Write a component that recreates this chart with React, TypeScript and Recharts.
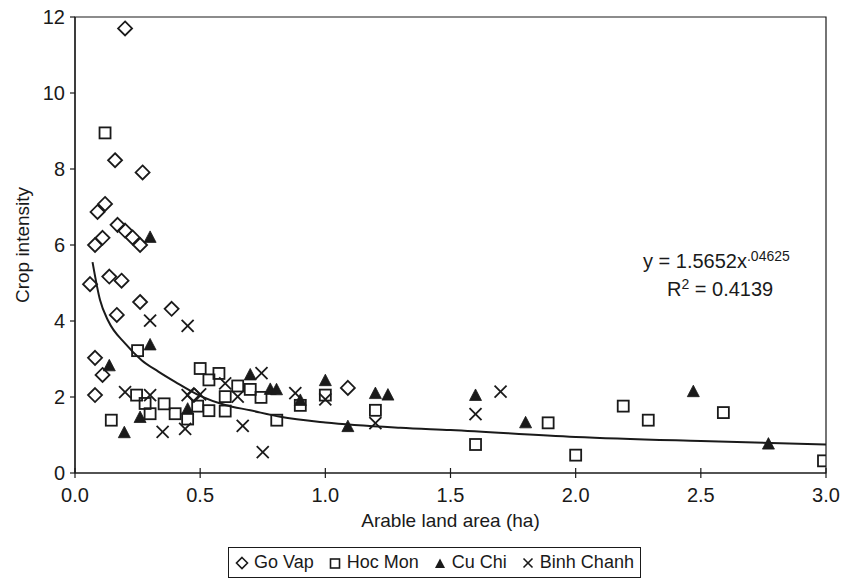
import React from "react";
import {
  ComposedChart,
  Scatter,
  Line,
  XAxis,
  YAxis,
  ReferenceArea,
} from "recharts";

// ---- data ----
const goVap = [
  { x: 0.2, y: 11.7 }, { x: 0.16, y: 8.23 }, { x: 0.27, y: 7.91 }, { x: 0.09, y: 6.87 },
  { x: 0.12, y: 7.08 }, { x: 0.17, y: 6.53 }, { x: 0.2, y: 6.38 }, { x: 0.23, y: 6.2 },
  { x: 0.26, y: 6.0 }, { x: 0.08, y: 6.0 }, { x: 0.11, y: 6.19 }, { x: 0.06, y: 4.97 },
  { x: 0.137, y: 5.17 }, { x: 0.186, y: 5.06 }, { x: 0.26, y: 4.5 }, { x: 0.386, y: 4.32 },
  { x: 0.167, y: 4.16 }, { x: 0.08, y: 3.03 }, { x: 0.11, y: 2.58 }, { x: 0.08, y: 2.05 },
  { x: 0.475, y: 2.05 }, { x: 1.09, y: 2.24 },
];

const hocMon = [
  { x: 0.12, y: 8.95 }, { x: 0.25, y: 3.22 }, { x: 0.246, y: 2.05 }, { x: 0.28, y: 1.83 },
  { x: 0.3, y: 1.56 }, { x: 0.356, y: 1.82 }, { x: 0.4, y: 1.56 }, { x: 0.45, y: 1.42 },
  { x: 0.49, y: 1.76 }, { x: 0.145, y: 1.39 }, { x: 0.5, y: 2.75 }, { x: 0.535, y: 2.45 },
  { x: 0.575, y: 2.62 }, { x: 0.65, y: 2.29 }, { x: 0.6, y: 2.01 }, { x: 0.535, y: 1.64 },
  { x: 0.6, y: 1.63 }, { x: 0.7, y: 2.2 }, { x: 0.743, y: 1.99 }, { x: 0.806, y: 1.39 },
  { x: 0.9, y: 1.78 }, { x: 1.0, y: 2.05 }, { x: 1.2, y: 1.65 }, { x: 1.6, y: 0.75 },
  { x: 1.89, y: 1.32 }, { x: 2.0, y: 0.47 }, { x: 2.19, y: 1.76 }, { x: 2.29, y: 1.39 },
  { x: 2.59, y: 1.59 }, { x: 2.99, y: 0.32 },
];

const cuChi = [
  { x: 0.3, y: 6.2 }, { x: 0.3, y: 3.37 }, { x: 0.137, y: 2.82 }, { x: 0.45, y: 1.68 },
  { x: 0.26, y: 1.46 }, { x: 0.197, y: 1.06 }, { x: 0.7, y: 2.58 }, { x: 0.78, y: 2.2 },
  { x: 0.805, y: 2.19 }, { x: 0.9, y: 1.91 }, { x: 1.0, y: 2.43 }, { x: 1.09, y: 1.22 },
  { x: 1.2, y: 2.09 }, { x: 1.25, y: 2.05 }, { x: 1.6, y: 2.04 }, { x: 1.8, y: 1.32 },
  { x: 2.47, y: 2.14 }, { x: 2.77, y: 0.76 },
];

const binhChanh = [
  { x: 0.3, y: 4.01 }, { x: 0.45, y: 3.87 }, { x: 0.2, y: 2.13 }, { x: 0.3, y: 2.05 },
  { x: 0.45, y: 2.05 }, { x: 0.5, y: 2.07 }, { x: 0.35, y: 1.08 }, { x: 0.44, y: 1.16 },
  { x: 0.6, y: 2.36 }, { x: 0.65, y: 2.01 }, { x: 0.67, y: 1.24 }, { x: 0.745, y: 2.63 },
  { x: 0.75, y: 0.55 }, { x: 0.88, y: 2.1 }, { x: 1.0, y: 1.94 }, { x: 1.2, y: 1.31 },
  { x: 1.6, y: 1.55 }, { x: 1.7, y: 2.14 },
];

// trend curve
const trend = [
  { x: 0.07, y: 5.55 }, { x: 0.1, y: 4.55 }, { x: 0.133, y: 4.0 }, { x: 0.2, y: 3.41 },
  { x: 0.266, y: 2.97 }, { x: 0.333, y: 2.67 }, { x: 0.4, y: 2.4 }, { x: 0.5, y: 2.03 },
  { x: 0.6, y: 1.79 }, { x: 0.7, y: 1.65 }, { x: 0.82, y: 1.48 }, { x: 1.0, y: 1.33 },
  { x: 1.3, y: 1.19 }, { x: 1.5, y: 1.13 }, { x: 2.0, y: 0.95 }, { x: 2.5, y: 0.84 },
  { x: 3.0, y: 0.75 },
];

const xTicks = [0, 0.5, 1.0, 1.5, 2.0, 2.5, 3.0];
const yTicks = [0, 2, 4, 6, 8, 10, 12];

const FONT = "'Liberation Sans', Arial, Helvetica, sans-serif";
const INK = "#1a1a1a";

const Diamond = (p: any) => {
  const { cx, cy } = p;
  if (cx == null || cy == null) return null;
  const r = 7;
  return (
    <polygon
      points={`${cx},${cy - r} ${cx + r},${cy} ${cx},${cy + r} ${cx - r},${cy}`}
      fill="none"
      stroke={INK}
      strokeWidth={1.8}
    />
  );
};
const Square = (p: any) => {
  const { cx, cy } = p;
  if (cx == null || cy == null) return null;
  const r = 5.5;
  return <rect x={cx - r} y={cy - r} width={2 * r} height={2 * r} fill="none" stroke={INK} strokeWidth={1.8} />;
};
const Triangle = (p: any) => {
  const { cx, cy } = p;
  if (cx == null || cy == null) return null;
  return (
    <polygon
      points={`${cx},${cy - 6.5} ${cx + 6},${cy + 5} ${cx - 6},${cy + 5}`}
      fill={INK}
      stroke={INK}
      strokeWidth={0.8}
    />
  );
};
const Cross = (p: any) => {
  const { cx, cy } = p;
  if (cx == null || cy == null) return null;
  const r = 6;
  return (
    <g stroke={INK} strokeWidth={1.8}>
      <line x1={cx - r} y1={cy - r} x2={cx + r} y2={cy + r} />
      <line x1={cx - r} y1={cy + r} x2={cx + r} y2={cy - r} />
    </g>
  );
};

const XTick = (p: any) => {
  const { x, y, payload } = p;
  const axisY = y - 5 - 10;
  return (
    <g>
      <line x1={x} x2={x} y1={axisY - 5} y2={axisY} stroke={INK} strokeWidth={1.2} />
      <text x={x} y={y} dy="0.71em" textAnchor="middle" fontSize={20} fill={INK} fontFamily={FONT}>
        {Number(payload.value).toFixed(1)}
      </text>
    </g>
  );
};

const legendItems = [
  { name: "Go Vap", icon: "diamond" },
  { name: "Hoc Mon", icon: "square" },
  { name: "Cu Chi", icon: "triangle" },
  { name: "Binh Chanh", icon: "cross" },
];

const LegendIcon = ({ kind }: { kind: string }) => (
  <svg width={14} height={14} style={{ marginRight: 5 }}>
    {kind === "diamond" && <polygon points="7,1.5 12.5,7 7,12.5 1.5,7" fill="none" stroke={INK} strokeWidth={1.6} />}
    {kind === "square" && <rect x={2.5} y={3} width={9} height={9} fill="none" stroke={INK} strokeWidth={1.6} />}
    {kind === "triangle" && <polygon points="7,2.5 12,12 2,12" fill={INK} />}
    {kind === "cross" && (
      <g stroke={INK} strokeWidth={1.6}>
        <line x1={2.5} y1={2.5} x2={11.5} y2={11.5} />
        <line x1={2.5} y1={11.5} x2={11.5} y2={2.5} />
      </g>
    )}
  </svg>
);

export default function App() {
  return (
    <div style={{ position: "absolute", left: 0, top: 0, width: 843, height: 585, background: "#fff", fontFamily: FONT }}>
      <ComposedChart width={843} height={585} margin={{ top: 17, right: 17, left: 0, bottom: 0 }}>
        <ReferenceArea x1={0} x2={3} y1={0} y2={12} fill="none" stroke={INK} strokeWidth={1.2} ifOverflow="visible" />
        <XAxis
          type="number"
          dataKey="x"
          domain={[0, 3]}
          ticks={xTicks}
          height={112}
          tickSize={5}
          tickMargin={10}
          tick={<XTick />}
          axisLine={{ stroke: INK, strokeWidth: 1.2 }}
          tickLine={{ stroke: INK, strokeWidth: 1.2 }}
          allowDataOverflow
          label={{ value: "Arable land area (ha)", position: "insideTop", offset: 41, fontSize: 19, fill: INK, fontFamily: FONT }}
        />
        <YAxis
          type="number"
          dataKey="y"
          domain={[0, 12]}
          ticks={yTicks}
          width={75}
          tickSize={5}
          tickMargin={5}
          tick={{ fontSize: 20, fill: INK, fontFamily: FONT }}
          axisLine={{ stroke: INK, strokeWidth: 1.2 }}
          tickLine={{ stroke: INK, strokeWidth: 1.2 }}
          label={{ value: "Crop intensity", angle: -90, position: "insideLeft", offset: 22, fontSize: 19, fill: INK, fontFamily: FONT, style: { textAnchor: "middle" } }}
        />
        <Line data={trend} dataKey="y" type="monotone" stroke={INK} strokeWidth={2} dot={false} isAnimationActive={false} />
        <Scatter name="Go Vap" data={goVap} dataKey="y" shape={<Diamond />} isAnimationActive={false} />
        <Scatter name="Hoc Mon" data={hocMon} dataKey="y" shape={<Square />} isAnimationActive={false} />
        <Scatter name="Cu Chi" data={cuChi} dataKey="y" shape={<Triangle />} isAnimationActive={false} />
        <Scatter name="Binh Chanh" data={binhChanh} dataKey="y" shape={<Cross />} isAnimationActive={false} />
      </ComposedChart>

      <div style={{ position: "absolute", left: 643, top: 245, fontSize: 20, color: INK, lineHeight: "22px", whiteSpace: "nowrap" }}>
        y = 1.5652x<sup style={{ fontSize: 14, verticalAlign: "7px" }}>.04625</sup>
      </div>
      <div style={{ position: "absolute", left: 667, top: 273, fontSize: 20, color: INK, lineHeight: "22px", whiteSpace: "nowrap" }}>
        R<sup style={{ fontSize: 14, verticalAlign: "7px" }}>2</sup> = 0.4139
      </div>

      <div
        style={{
          position: "absolute",
          left: 228,
          top: 547,
          width: 413,
          height: 31,
          boxSizing: "border-box",
          border: `1.2px solid ${INK}`,
          display: "flex",
          alignItems: "center",
          justifyContent: "center",
          gap: 14,
          fontSize: 18,
          color: INK,
        }}
      >
        {legendItems.map((it) => (
          <span key={it.name} style={{ display: "flex", alignItems: "center" }}>
            <LegendIcon kind={it.icon} />
            {it.name}
          </span>
        ))}
      </div>
    </div>
  );
}
